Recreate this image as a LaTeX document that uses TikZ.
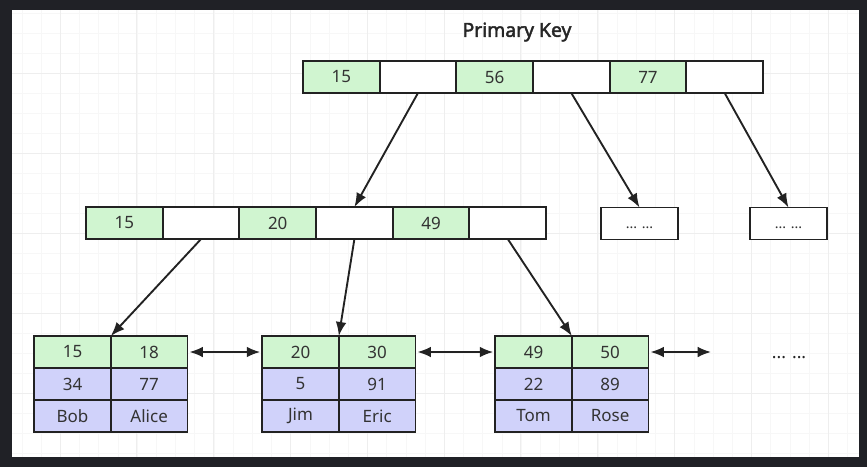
\documentclass[tikz,border=0pt]{standalone}
\usepackage{fontspec}
\setmainfont{Noto Sans}
\newfontfamily\titlefont{Noto Sans}[FakeBold=2.2]
\usetikzlibrary{positioning,arrows.meta}
\definecolor{keyc}{RGB}{208,245,208}
\definecolor{valc}{RGB}{208,210,250}
\definecolor{linec}{RGB}{34,34,34}
\definecolor{txtc}{RGB}{51,51,51}
\definecolor{framec}{RGB}{32,33,38}
\definecolor{gridc}{RGB}{247,247,247}
\definecolor{gridmc}{RGB}{238,238,238}
\tikzset{
  cell/.style={draw=linec, line width=1.6pt, minimum width=2.3cm, minimum height=0.96cm,
    inner sep=0pt, outer sep=0pt, text=txtc, font=\fontsize{14.5}{17}\selectfont},
  keycell/.style={cell, fill=keyc},
  ptrcell/.style={cell, fill=white},
  valcell/.style={cell, fill=valc},
  link/.style={-{Latex[length=4.2mm,width=3.2mm]}, line width=1.6pt, draw=linec},
  dlink/.style={{Latex[length=4mm,width=3.2mm]}-{Latex[length=4mm,width=3.2mm]},
    line width=1.6pt, draw=linec, shorten <=0.6mm, shorten >=0.6mm},
}
\begin{document}
\begin{tikzpicture}[x=0.03cm, y=-0.03cm]
	\useasboundingbox (0,0) rectangle (867,467);
	% Khung nền và lưới
	\fill[framec] (0,0) rectangle (867,467);
	\fill[white] (12,10) rectangle (859,457);
	\foreach \gx in {22,41.2,...,858} \draw[gridc, line width=0.6pt] (\gx,10) -- (\gx,457);
	\foreach \gy in {13,33,...,456} \draw[gridc, line width=0.6pt] (12,\gy) -- (859,\gy);
	\foreach \gx in {60,136.8,...,858} \draw[gridmc, line width=0.6pt] (\gx,10) -- (\gx,457);
	\foreach \gy in {73,153,...,456} \draw[gridmc, line width=0.6pt] (12,\gy) -- (859,\gy);
	
	% Tiêu đề
	\node[font=\titlefont\fontsize{16.5}{20}\selectfont, text=black!85] (title) at (517,32) {Primary Key};
	
	% Nút gốc
	\node[keycell] (r1) at (341.3,77) {15};
	\node[ptrcell, right=0pt of r1] (r2) {};
	\node[keycell, right=0pt of r2] (r3) {56};
	\node[ptrcell, right=0pt of r3] (r4) {};
	\node[keycell, right=0pt of r4] (r5) {77};
	\node[ptrcell, right=0pt of r5] (r6) {};
	
	% Nút trung gian
	\node[keycell] (m1) at (124.4,223) {15};
	\node[ptrcell, right=0pt of m1] (m2) {};
	\node[keycell, right=0pt of m2] (m3) {20};
	\node[ptrcell, right=0pt of m3] (m4) {};
	\node[keycell, right=0pt of m4] (m5) {49};
	\node[ptrcell, right=0pt of m5] (m6) {};
	\node[ptrcell, font=\fontsize{12}{14}\selectfont] (d1) at (639.5,223.5) {\vphantom{0}... ...};
	\node[ptrcell, font=\fontsize{12}{14}\selectfont] (d2) at (788.5,223.5) {\vphantom{0}... ...};
	
	% Các nút lá
	\foreach \nm/\x/\ka/\kb/\va/\vb/\na/\nb in {a/72.5/15/18/34/77/Bob/Alice,
		b/300.5/20/30/5/91/Jim/Eric, c/533.5/49/50/22/89/Tom/Rose} {
		\node[keycell] (\nm1) at (\x,352) {\ka};
		\node[keycell, right=0pt of \nm1] (\nm2) {\kb};
		\node[valcell, below=0pt of \nm1] (\nm3) {\va};
		\node[valcell, right=0pt of \nm3] (\nm4) {\vb};
		\node[valcell, below=0pt of \nm3] (\nm5) {\na};
		\node[valcell, right=0pt of \nm5] (\nm6) {\nb};
	}
	\node[font=\fontsize{15}{18}\selectfont\bfseries, text=black!85] (more) at (789,352) {\vphantom{0}... ...};
	\coordinate (cend) at (713,352);
	
	% Con trỏ
	\draw[link] (r2.south) -- (m4.north);
	\draw[link] (r4.south) -- (d1.north);
	\draw[link] (r6.south) -- (d2.north);
	\draw[link] (m2.south) -- (a1.north east);
	\draw[link] (m4.south) -- (b1.north east);
	\draw[link] (m6.south) -- (c1.north east);
	\draw[dlink] (a2.east) -- (b1.west);
	\draw[dlink] (b2.east) -- (c1.west);
	\draw[dlink] (c2.east) -- (cend);
\end{tikzpicture}
\end{document}
